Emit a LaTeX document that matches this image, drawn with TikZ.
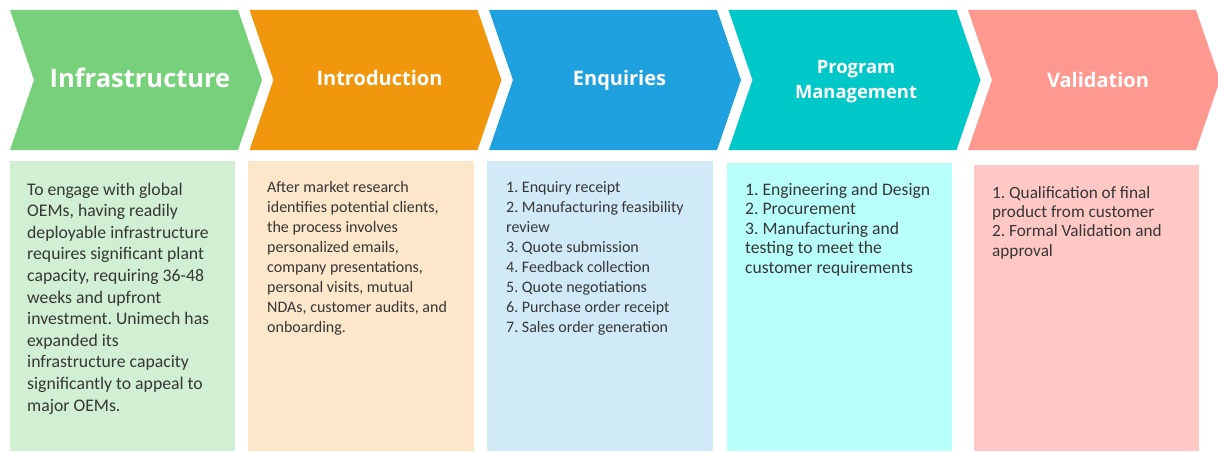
\documentclass[tikz,border=0pt]{standalone}
\usepackage{fontspec}
\setmainfont{Carlito}
\newfontfamily\titlefont{Open Sans}
\frenchspacing
\definecolor{cGreen}{HTML}{77D17A}
\definecolor{cOrange}{HTML}{F0970E}
\definecolor{cBlue}{HTML}{1FA0DF}
\definecolor{cTeal}{HTML}{00C8C8}
\definecolor{cSalmon}{HTML}{FF988E}
\definecolor{lGreen}{HTML}{D1EFD2}
\definecolor{lOrange}{HTML}{FCE7CB}
\definecolor{lBlue}{HTML}{D1EAF7}
\definecolor{lTeal}{HTML}{B8FFFC}
\definecolor{lSalmon}{HTML}{FFC8C4}
\definecolor{bodytext}{HTML}{363636}
\tikzset{
  chevtitle/.style={text=white, inner sep=0pt, anchor=base, align=center, font=\titlefont\bfseries},
  bodytxt/.style={text=bodytext, inner sep=0pt, anchor=base west, align=left},
}
\begin{document}
\begin{tikzpicture}[x=1pt,y=-1pt]
\useasboundingbox (0,0) rectangle (1218,452);
% chevrons
\foreach \xo/\col in {10/cGreen, 249.5/cOrange, 489/cBlue, 728.5/cTeal, 968/cSalmon}{
  \fill[\col] (\xo,10) -- (\xo+228,10) -- (\xo+252,80) -- (\xo+228,150) -- (\xo,150) -- (\xo+24,80) -- cycle;
}
% body boxes
\fill[lGreen] (10,161) rectangle (235,451);
\fill[lOrange] (248,161) rectangle (474,451);
\fill[lBlue] (487,161) rectangle (713,451);
\fill[lTeal] (727,163) rectangle (952,451);
\fill[lSalmon] (974,165) rectangle (1199,451);
% titles (base anchor = baseline of last line)
\node[chevtitle, font=\titlefont\bfseries\fontsize{25.5}{30}\selectfont] (t1) at (140,88) {Infrastructure};
\node[chevtitle, font=\titlefont\bfseries\fontsize{20}{24}\selectfont] (t2) at (379.5,85) {Introduction};
\node[chevtitle, font=\titlefont\bfseries\fontsize{20}{24}\selectfont] (t3) at (619.5,85) {Enquiries};
\node[chevtitle, font=\titlefont\bfseries\fontsize{18.4}{25}\selectfont] (t4) at (856,99) {Program\\Management};
\node[chevtitle, font=\titlefont\bfseries\fontsize{20}{24}\selectfont] (t5) at (1098,88) {Validation};
% body texts
\node[bodytxt, font=\fontsize{17.7}{21.6}\selectfont] (b1) at (27,411) {To engage with global\\OEMs, having readily\\deployable infrastructure\\requires significant plant\\capacity, requiring 36-48\\weeks and upfront\\investment. Unimech has\\expanded its\\infrastructure capacity\\significantly to appeal to\\major OEMs.};
\node[bodytxt, font=\fontsize{16}{19.9}\selectfont] (b2) at (267,332) {After market research\\identifies potential clients,\\the process involves\\personalized emails,\\company presentations,\\personal visits, mutual\\NDAs, customer audits, and\\onboarding.};
\node[bodytxt, font=\fontsize{16}{19.9}\selectfont] (b3) at (506,332) {1. Enquiry receipt\\2. Manufacturing feasibility\\review\\3. Quote submission\\4. Feedback collection\\5. Quote negotiations\\6. Purchase order receipt\\7. Sales order generation};
\node[bodytxt, font=\fontsize{17.6}{19.5}\selectfont] (b4) at (745,273) {1. Engineering and Design\\2. Procurement\\3. Manufacturing and\\testing to meet the\\customer requirements};
\node[bodytxt, font=\fontsize{17.2}{19.3}\selectfont] (b5) at (992,256) {1. Qualification of final\\product from customer\\2. Formal Validation and\\approval};
\end{tikzpicture}
\end{document}
